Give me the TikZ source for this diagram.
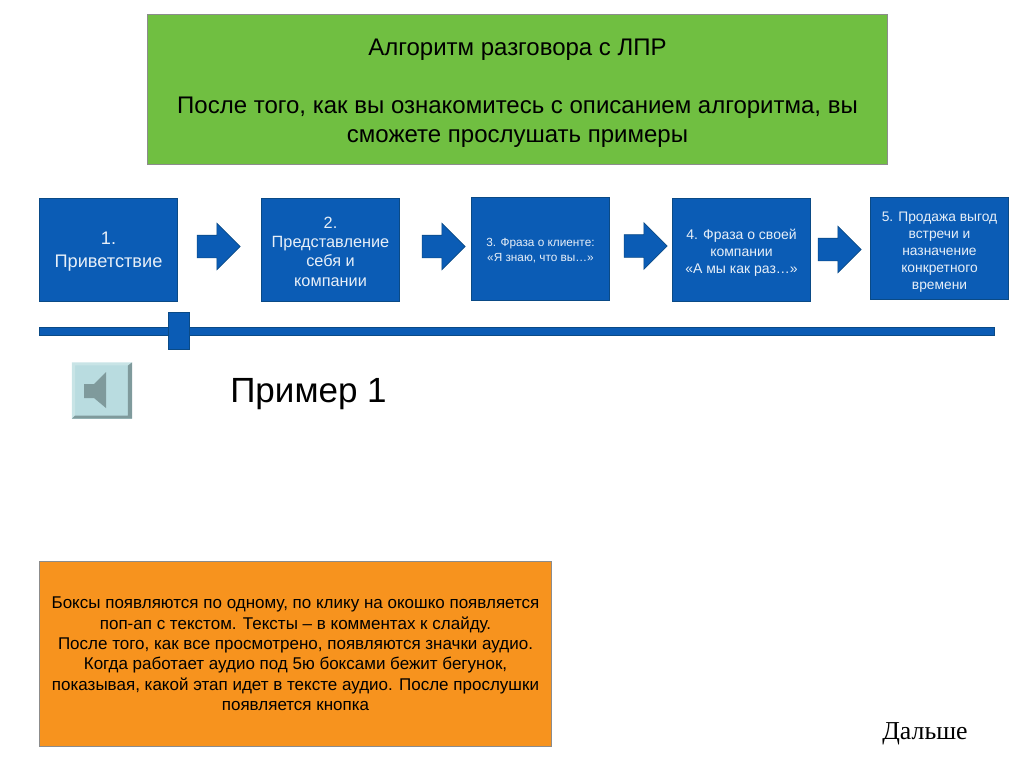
\documentclass[tikz,border=0pt]{standalone}
\usepackage{fontspec}
\setmainfont{Liberation Sans}
\newfontfamily\serifcyr{Liberation Serif}
\usetikzlibrary{shapes.arrows}

\definecolor{stepblue}{HTML}{0B5CB5}
\definecolor{stepedge}{HTML}{0A4A86}
\definecolor{headgreen}{HTML}{70BF41}
\definecolor{noteorange}{HTML}{F7931E}
\definecolor{soundface}{HTML}{B9DCE0}
\definecolor{soundlight}{HTML}{C8E4E6}
\definecolor{sounddark}{HTML}{7F9A9C}

\tikzset{
    stepbox/.style={draw=stepedge, line width=1pt, fill=stepblue,
        minimum width=138pt, minimum height=103pt, inner sep=0pt},
    steptext/.style={text=white!90!stepblue, align=center, inner sep=0pt},
    nextarrow/.style={single arrow, draw=stepedge, line width=0.6pt, fill=stepblue,
        inner xsep=0pt, inner ysep=11pt, minimum height=43pt,
        single arrow head extend=12pt, single arrow tip angle=90},
    panel/.style={draw=black!45, line width=1pt, inner sep=0pt},
    paneltext/.style={text=black, align=center, inner sep=0pt},
}

\begin{document}
\begin{tikzpicture}[x=1pt,y=-1pt]
    \useasboundingbox (0,0) rectangle (1024,768);

    \node[panel, fill=headgreen, minimum width=740pt, minimum height=150pt] (Head) at (517.5,89.5) {};
    \node[paneltext, font=\fontsize{24}{29}\selectfont] (HeadText) at ([yshift=-3.5pt]Head.center)
        {Алгоритм разговора с ЛПР\\[29pt]После того, как вы ознакомитесь с описанием алгоритма, вы\\сможете прослушать примеры};

    \node[stepbox] (S1) at (108.5,250) {};
    \node[stepbox] (S2) at (330.5,250) {};
    \node[stepbox] (S3) at (540.5,249) {};
    \node[stepbox] (S4) at (741.5,250) {};
    \node[stepbox, minimum height=102pt] (S5) at (939.5,248.5) {};

    \node[steptext, font=\fontsize{18.2}{23}\selectfont] (T1) at ([yshift=-2pt]S1.center) {1.\\Приветствие};
    \node[steptext, font=\fontsize{16.3}{19.3}\selectfont] (T2) at ([yshift=-1.5pt]S2.center) {2.\\Представление\\себя и\\компании};
    \node[steptext, font=\fontsize{11.8}{15}\selectfont] (T3) at ([yshift=-2pt]S3.center) {3. Фраза о клиенте:\\«Я знаю, что вы…»};
    \node[steptext, font=\fontsize{14}{17}\selectfont] (T4) at ([yshift=-3pt]S4.center) {4. Фраза о своей\\компании\\«А мы как раз…»};
    \node[steptext, font=\fontsize{13.8}{17}\selectfont] (T5) at ([yshift=-3.5pt]S5.center) {5. Продажа выгод\\встречи и\\назначение\\конкретного\\времени};

    \node[nextarrow] (A1) at (213,246.5) {};
    \node[nextarrow] (A2) at (438,246.5) {};
    \node[nextarrow] (A3) at (640,246) {};
    \node[nextarrow] (A4) at (834,249.5) {};

    % bar with the runner
    \node[stepbox, minimum width=955pt, minimum height=8.5pt] (Bar) at (517,331.7) {};
    \node[stepbox, minimum width=21pt, minimum height=37pt] (Runner) at (179,331) {};

    % sound button
    \node[fill=soundface, minimum width=60pt, minimum height=56pt, inner sep=0pt] (Sound) at (102,390.5) {};
    \fill[soundlight] (Sound.south west) -- (Sound.north west) -- (Sound.north east)
        -- ++(-4,3) -- ++(-53,0) -- ++(0,50) -- cycle;
    \fill[sounddark] (Sound.north east) -- (Sound.south east) -- (Sound.south west)
        -- ++(3,-3) -- ++(53,0) -- ++(0,-50) -- cycle;
    \fill[sounddark] (84,384) -- (94,384) -- (106,372) -- (106,408) -- (94,398) -- (84,398) -- cycle;

    \node[paneltext, font=\fontsize{35}{40}\selectfont] (Ex) at (308.5,394) {Пример 1};

    \node[panel, fill=noteorange, minimum width=512pt, minimum height=185pt] (Note) at (295.5,654) {};
    \node[paneltext, font=\fontsize{17}{20.4}\selectfont] (NoteText) at (Note.center)
        {Боксы появляются по одному, по клику на окошко появляется\\поп-ап с текстом. Тексты – в комментах к слайду.\\ После того, как все просмотрено, появляются значки аудио.\\Когда работает аудио под 5ю боксами бежит бегунок,\\показывая, какой этап идет в тексте аудио. После прослушки\\появляется кнопка};

    \node[font=\serifcyr\fontsize{25.8}{28}\selectfont, inner sep=0pt] (Next) at (925,734) {Дальше};
\end{tikzpicture}
\end{document}
